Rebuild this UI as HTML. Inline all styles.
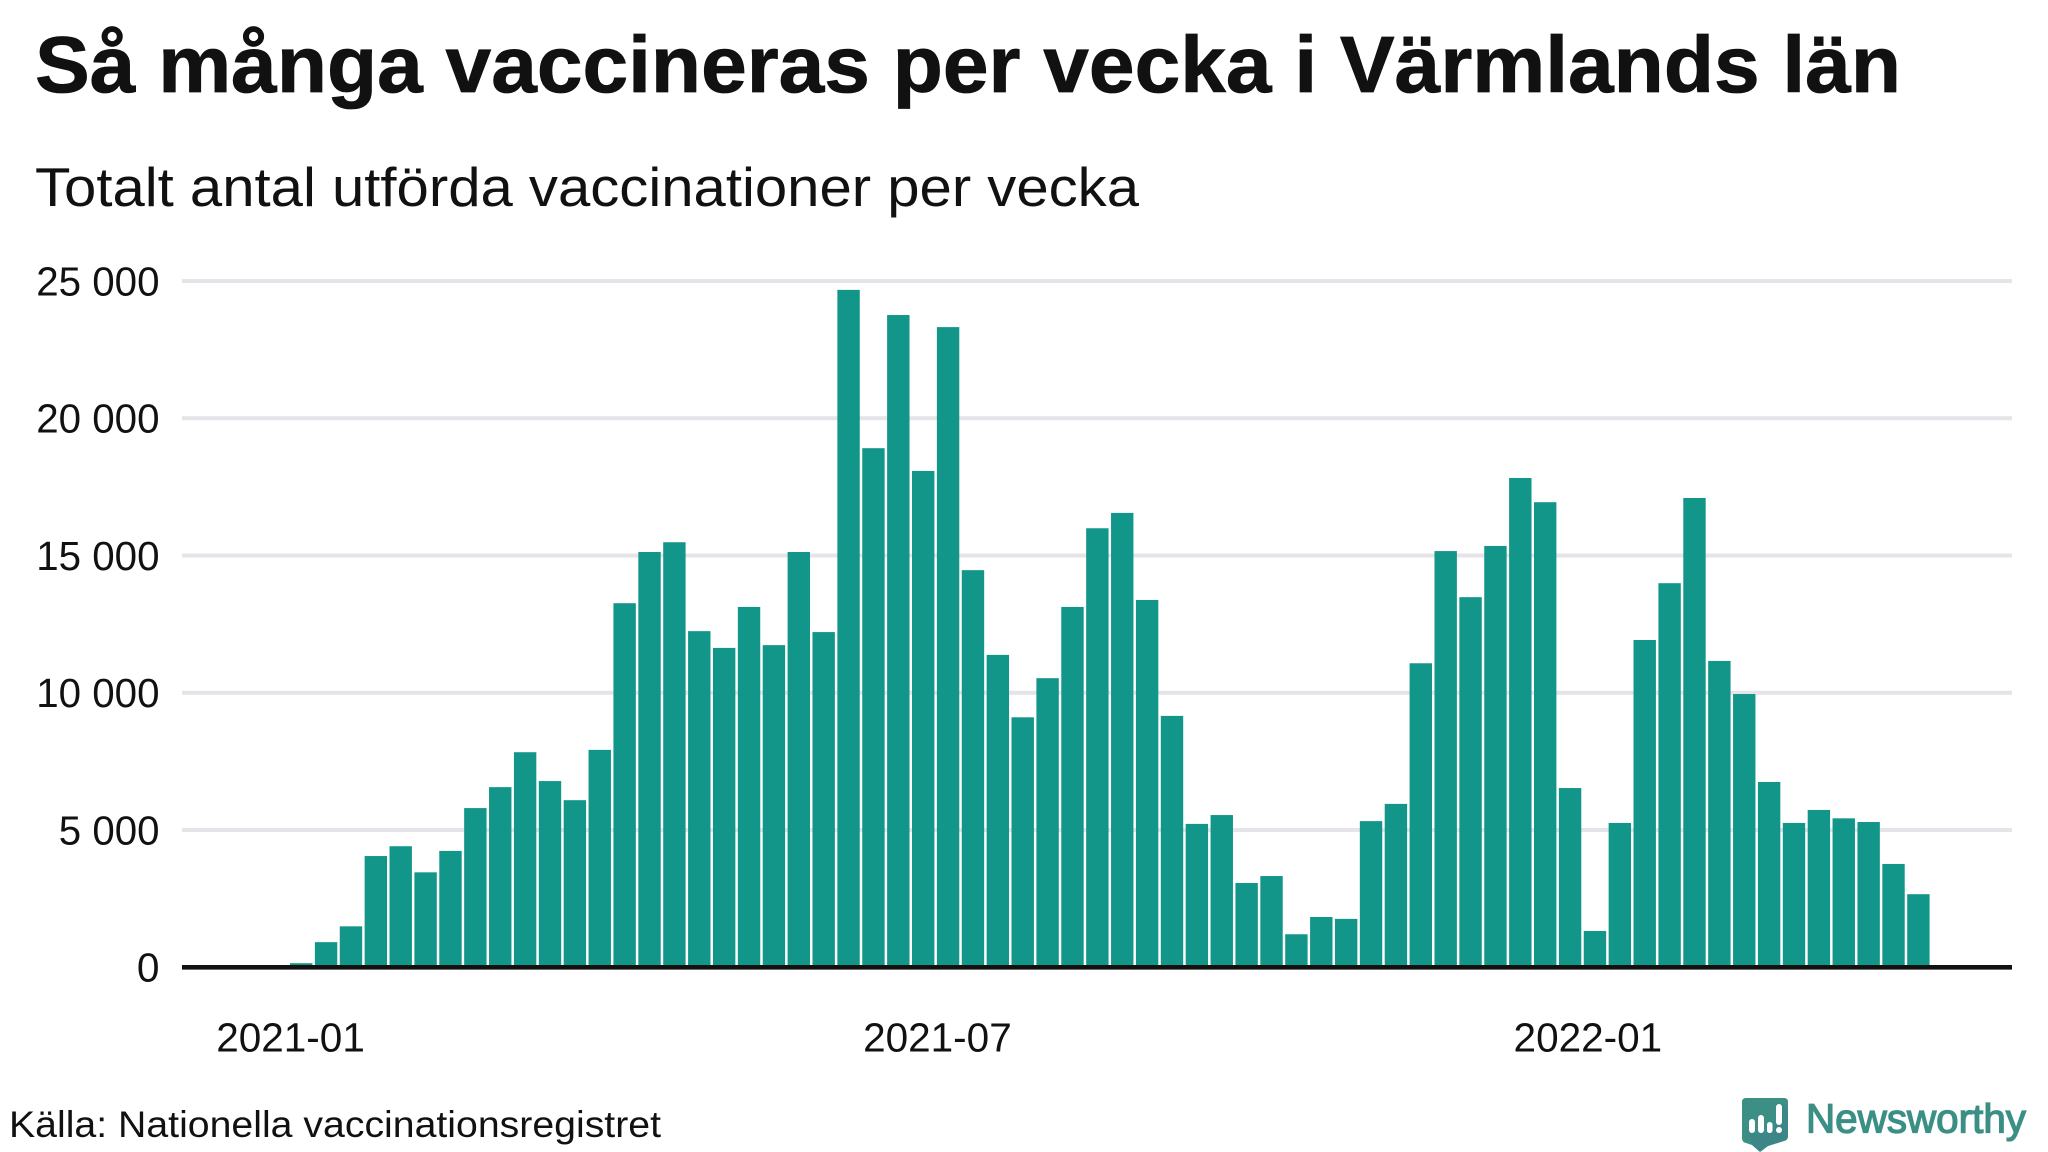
<!DOCTYPE html>
<html lang="sv">
<head>
<meta charset="utf-8">
<title>Så många vaccineras per vecka i Värmlands län</title>
<style>
html,body{margin:0;padding:0;background:#fff;}
svg{display:block;}
text{font-family:"Liberation Sans",sans-serif;fill:#111;}
</style>
</head>
<body>
<svg id="chart" xmlns="http://www.w3.org/2000/svg" width="2048" height="1152" viewBox="0 0 2048 1152">
  <rect x="0" y="0" width="2048" height="1152" fill="#ffffff"/>
  <text x="35" y="92" font-size="80" font-weight="700" textLength="1866" lengthAdjust="spacingAndGlyphs" style="stroke:#111;stroke-width:0.8px">Så många vaccineras per vecka i Värmlands län</text>
  <text x="35" y="206" font-size="55" textLength="1104" lengthAdjust="spacingAndGlyphs">Totalt antal utförda vaccinationer per vecka</text>
  <g id="grid"></g>
  <g id="bars"></g>
  <g id="axis"></g>
  <text x="9" y="1137" font-size="37" textLength="652" lengthAdjust="spacingAndGlyphs">Källa: Nationella vaccinationsregistret</text>
  <g>
    <path d="M1746 1098H1784Q1788 1098 1788 1102V1136Q1788 1140 1784 1141L1768 1146 1760 1152 1752 1145 1746 1143Q1742 1142 1742 1138V1102Q1742 1098 1746 1098Z" fill="#3b8f85"/>
    <path d="M1782 1104L1788 1110V1136Q1788 1140 1784 1141L1768 1146 1760 1152 1752 1145 1749 1133H1772Z" fill="#3f7f8a" opacity="0.55"/>
    <rect x="1749" y="1119" width="6" height="14" rx="3" fill="#fff"/>
    <rect x="1758" y="1115" width="6" height="18" rx="3" fill="#fff"/>
    <rect x="1767" y="1122" width="5.5" height="11" rx="2.7" fill="#fff"/>
    <rect x="1776" y="1104" width="6" height="21" rx="3" fill="#fff"/>
    <rect x="1776" y="1127" width="6" height="6" rx="3" fill="#fff"/>
    <text x="1806" y="1132.7" font-size="41" textLength="220" lengthAdjust="spacingAndGlyphs" style="fill:#3b8f85;stroke:#3b8f85;stroke-width:1.3px">Newsworthy</text>
  </g>
</svg>
<script>
const weeks = [
  "2021-W01","2021-W02","2021-W03","2021-W04","2021-W05","2021-W06","2021-W07","2021-W08","2021-W09","2021-W10",
  "2021-W11","2021-W12","2021-W13","2021-W14","2021-W15","2021-W16","2021-W17","2021-W18","2021-W19","2021-W20",
  "2021-W21","2021-W22","2021-W23","2021-W24","2021-W25","2021-W26","2021-W27","2021-W28","2021-W29","2021-W30",
  "2021-W31","2021-W32","2021-W33","2021-W34","2021-W35","2021-W36","2021-W37","2021-W38","2021-W39","2021-W40",
  "2021-W41","2021-W42","2021-W43","2021-W44","2021-W45","2021-W46","2021-W47","2021-W48","2021-W49","2021-W50",
  "2021-W51","2021-W52","2022-W01","2022-W02","2022-W03","2022-W04","2022-W05","2022-W06","2022-W07","2022-W08",
  "2022-W09","2022-W10","2022-W11","2022-W12","2022-W13","2022-W14"
];
const vaccinations = [
  150,916,1492,4053,4410,3460,4240,5800,6563,7835,
  6784,6088,7920,13263,15128,15484,12245,11635,13127,11736,
  15128,12211,24677,18910,23760,18080,23320,14467,11380,9107,
  10532,13127,15993,16553,13381,9158,5224,5546,3070,3324,
  1204,1832,1764,5325,5953,11075,15162,13483,15349,17825,
  16943,6530,1323,5258,11923,13992,17096,11160,9955,6750,
  5258,5732,5427,5292,3765,2663
];
const yTicks = [0,5000,10000,15000,20000,25000];
const yTickLabels = ["0","5 000","10 000","15 000","20 000","25 000"];
const xTickDates = ["2021-01-01","2021-07-02","2022-01-01"];
const xTickLabels = ["2021-01","2021-07","2022-01"];

const NS = "http://www.w3.org/2000/svg";
const plotLeft = 182, plotRight = 2012, zeroY = 967.3, topY = 281;
const firstBarLeft = 290, barStep = 24.88, barWidth = 22.4;
const firstWeekDate = Date.UTC(2021,0,4);

function yScale(v){ return zeroY - (zeroY - topY) * v / 25000; }
function xBand(i){ return firstBarLeft + i * barStep; }
function xDate(s){
  const days = (Date.parse(s + "T00:00:00Z") - firstWeekDate) / 86400000;
  return firstBarLeft + barWidth / 2 + days * barStep / 7;
}
function labelWidth(s){
  let w = 0;
  for (const c of s) { w += c === " " ? 10.3 : c === "-" ? 13 : 22.6; }
  return w;
}
function mk(tag, parent){
  const el = document.createElementNS(NS, tag);
  parent.appendChild(el);
  return el;
}

const grid = document.getElementById("grid");
const bars = document.getElementById("bars");
const axis = document.getElementById("axis");

yTicks.forEach(function(t, i){
  if (t !== 0) {
    const line = mk("line", grid);
    
    
    line.setAttribute("x1", plotLeft);
    line.setAttribute("x2", plotRight);
    line.setAttribute("y1", yScale(t));
    line.setAttribute("y2", yScale(t));
    line.setAttribute("stroke", "#e4e4e9");
    line.setAttribute("stroke-width", "4");
  }
  const label = mk("text", axis);
  
  
  label.setAttribute("x", 159.5);
  label.setAttribute("y", yScale(t) + 14.4);
  label.setAttribute("text-anchor", "end");
  label.setAttribute("font-size", "41");
  label.setAttribute("textLength", labelWidth(yTickLabels[i]));
  label.setAttribute("lengthAdjust", "spacingAndGlyphs");
  label.textContent = yTickLabels[i];
});

vaccinations.forEach(function(v, i){
  const r = mk("rect", bars);
  
  
  r.setAttribute("x", xBand(i));
  r.setAttribute("y", yScale(v));
  r.setAttribute("width", barWidth);
  r.setAttribute("height", zeroY - yScale(v));
  r.setAttribute("fill", "#13968a");
  const tip = mk("title", r);
  tip.textContent = weeks[i] + ": " + v;
});

const zeroLine = mk("line", axis);


zeroLine.setAttribute("x1", plotLeft);
zeroLine.setAttribute("x2", plotRight);
zeroLine.setAttribute("y1", zeroY);
zeroLine.setAttribute("y2", zeroY);
zeroLine.setAttribute("stroke", "#111111");
zeroLine.setAttribute("stroke-width", "4.6");

xTickDates.forEach(function(d, i){
  const label = mk("text", axis);
  
  
  label.setAttribute("x", xDate(d));
  label.setAttribute("y", 1051.7);
  label.setAttribute("text-anchor", "middle");
  label.setAttribute("font-size", "41");
  label.setAttribute("textLength", labelWidth(xTickLabels[i]));
  label.setAttribute("lengthAdjust", "spacingAndGlyphs");
  label.textContent = xTickLabels[i];
});
</script>
</body>
</html>
